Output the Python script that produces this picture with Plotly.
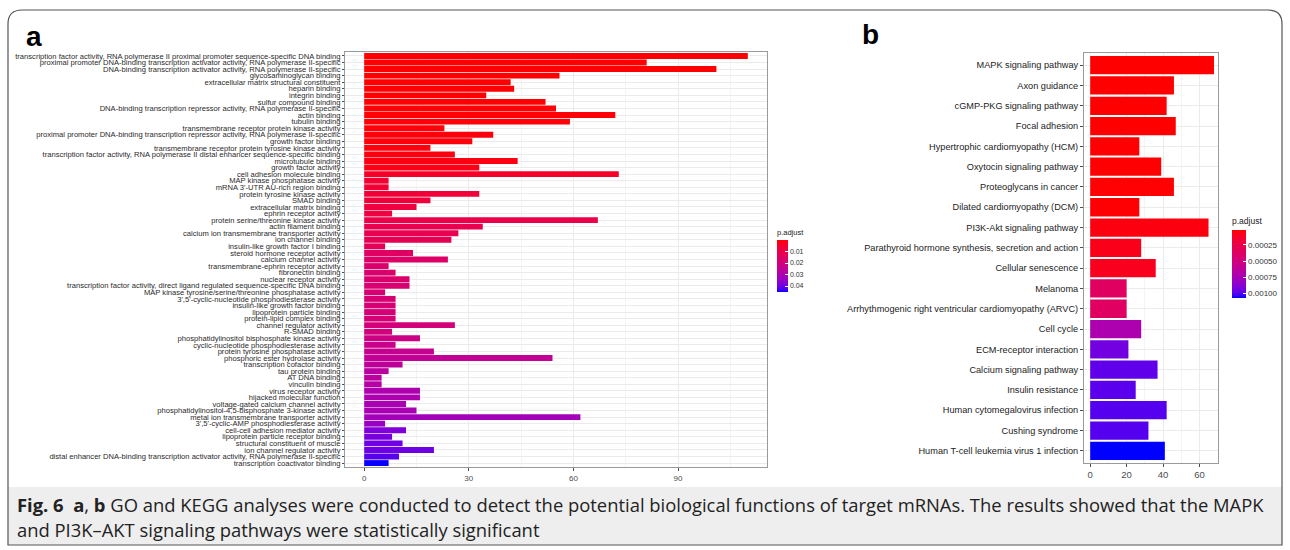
import plotly.graph_objects as go

# ---------------- data ----------------
go_terms = [
    "transcription factor activity, RNA polymerase II proximal promoter sequence-specific DNA binding",
    "proximal promoter DNA-binding transcription activator activity, RNA polymerase II-specific",
    "DNA-binding transcription activator activity, RNA polymerase II-specific",
    "glycosaminoglycan binding",
    "extracellular matrix structural constituent",
    "heparin binding",
    "integrin binding",
    "sulfur compound binding",
    "DNA-binding transcription repressor activity, RNA polymerase II-specific",
    "actin binding",
    "tubulin binding",
    "transmembrane receptor protein kinase activity",
    "proximal promoter DNA-binding transcription repressor activity, RNA polymerase II-specific",
    "growth factor binding",
    "transmembrane receptor protein tyrosine kinase activity",
    "transcription factor activity, RNA polymerase II distal enhancer sequence-specific binding",
    "microtubule binding",
    "growth factor activity",
    "cell adhesion molecule binding",
    "MAP kinase phosphatase activity",
    "mRNA 3'-UTR AU-rich region binding",
    "protein tyrosine kinase activity",
    "SMAD binding",
    "extracellular matrix binding",
    "ephrin receptor activity",
    "protein serine/threonine kinase activity",
    "actin filament binding",
    "calcium ion transmembrane transporter activity",
    "ion channel binding",
    "insulin-like growth factor I binding",
    "steroid hormone receptor activity",
    "calcium channel activity",
    "transmembrane-ephrin receptor activity",
    "fibronectin binding",
    "nuclear receptor activity",
    "transcription factor activity, direct ligand regulated sequence-specific DNA binding",
    "MAP kinase tyrosine/serine/threonine phosphatase activity",
    "3',5'-cyclic-nucleotide phosphodiesterase activity",
    "insulin-like growth factor binding",
    "lipoprotein particle binding",
    "protein-lipid complex binding",
    "channel regulator activity",
    "R-SMAD binding",
    "phosphatidylinositol bisphosphate kinase activity",
    "cyclic-nucleotide phosphodiesterase activity",
    "protein tyrosine phosphatase activity",
    "phosphoric ester hydrolase activity",
    "transcription cofactor binding",
    "tau protein binding",
    "AT DNA binding",
    "vinculin binding",
    "virus receptor activity",
    "hijacked molecular function",
    "voltage-gated calcium channel activity",
    "phosphatidylinositol-4,5-bisphosphate 3-kinase activity",
    "metal ion transmembrane transporter activity",
    "3',5'-cyclic-AMP phosphodiesterase activity",
    "cell-cell adhesion mediator activity",
    "lipoprotein particle receptor binding",
    "structural constituent of muscle",
    "ion channel regulator activity",
    "distal enhancer DNA-binding transcription activator activity, RNA polymerase II-specific",
    "transcription coactivator binding",
]
go_counts = [110, 81, 101, 56, 42, 43, 35, 52, 55, 72,
             59, 23, 37, 31, 19, 26, 44, 33, 73, 7,
             7, 33, 19, 15, 8, 67, 34, 27, 25, 6,
             14, 24, 7, 9, 13, 13, 6, 9, 9, 9,
             9, 26, 8, 16, 9, 20, 54, 11, 7, 5,
             5, 16, 16, 12, 15, 62, 6, 12, 8, 11,
             20, 10, 7]
go_padj = [0.000001, 0.00001, 0.00002, 0.00005, 0.0001, 0.00015, 0.0002, 0.0003, 0.0004, 0.0005,
           0.0006, 0.0008, 0.0009, 0.0010, 0.0012, 0.0014, 0.0016, 0.0019, 0.0045, 0.0060,
           0.0065, 0.0070, 0.0075, 0.0080, 0.0085, 0.0100, 0.0110, 0.0115, 0.0120, 0.0130,
           0.0150, 0.0160, 0.0165, 0.0170, 0.0170, 0.0175, 0.0180, 0.0180, 0.0185, 0.0190,
           0.0190, 0.0195, 0.0200, 0.0220, 0.0230, 0.0240, 0.0250, 0.0260, 0.0270, 0.0270,
           0.0280, 0.0300, 0.0300, 0.0310, 0.0310, 0.0320, 0.0340, 0.0380, 0.0390, 0.0400,
           0.0400, 0.0420, 0.0450]

kegg_terms = [
    "MAPK signaling pathway",
    "Axon guidance",
    "cGMP-PKG signaling pathway",
    "Focal adhesion",
    "Hypertrophic cardiomyopathy (HCM)",
    "Oxytocin signaling pathway",
    "Proteoglycans in cancer",
    "Dilated cardiomyopathy (DCM)",
    "PI3K-Akt signaling pathway",
    "Parathyroid hormone synthesis, secretion and action",
    "Cellular senescence",
    "Melanoma",
    "Arrhythmogenic right ventricular cardiomyopathy (ARVC)",
    "Cell cycle",
    "ECM-receptor interaction",
    "Calcium signaling pathway",
    "Insulin resistance",
    "Human cytomegalovirus infection",
    "Cushing syndrome",
    "Human T-cell leukemia virus 1 infection",
]
kegg_counts = [68, 46, 42, 47, 27, 39, 46, 27, 65, 28,
               36, 20, 20, 28, 21, 37, 25, 42, 32, 41]
kegg_padj = [0.00002, 0.000021, 0.000022, 0.000023, 0.000024, 0.000025, 0.000026, 0.000027, 0.00005, 0.00007,
             0.00009, 0.00036, 0.00037, 0.00072, 0.00094, 0.00098, 0.00099, 0.00100, 0.00100, 0.00107]

go_ticks = [0.01, 0.02, 0.03, 0.04]
kegg_ticks = [0.00025, 0.00050, 0.00075, 0.00100]
kegg_tick_text = ["0.00025", "0.00050", "0.00075", "0.00100"]

caption_line1 = ("<b>Fig. 6</b>  <b>a</b>, <b>b</b> GO and KEGG analyses were conducted to detect the potential "
                 "biological functions of target mRNAs. The results showed that the MAPK")
caption_line2 = "and PI3K\u2013AKT signaling pathways were statistically significant"

# ---------------- helpers ----------------
W, H = 1290, 550


def px(x):
    return x / W


def py(y):
    return 1 - y / H


def _lin(c):
    c = c / 255.0
    return c / 12.92 if c <= 0.04045 else ((c + 0.055) / 1.055) ** 2.4


def _gam(c):
    c = 12.92 * c if c <= 0.0031308 else 1.055 * c ** (1 / 2.4) - 0.055
    return max(0, min(255, round(c * 255)))


def rgb2lab(rgb):
    r, g, b = [_lin(v) for v in rgb]
    X = (0.4124 * r + 0.3576 * g + 0.1805 * b) / 0.95047
    Y = (0.2126 * r + 0.7152 * g + 0.0722 * b) / 1.0
    Z = (0.0193 * r + 0.1192 * g + 0.9505 * b) / 1.08883

    def f(t):
        return t ** (1 / 3) if t > 0.008856 else 7.787 * t + 16 / 116
    fx, fy, fz = f(X), f(Y), f(Z)
    return (116 * fy - 16, 500 * (fx - fy), 200 * (fy - fz))


def lab2rgb(lab):
    L, a, b = lab
    fy = (L + 16) / 116
    fx = fy + a / 500
    fz = fy - b / 200

    def finv(t):
        return t ** 3 if t ** 3 > 0.008856 else (t - 16 / 116) / 7.787
    X, Y, Z = finv(fx) * 0.95047, finv(fy), finv(fz) * 1.08883
    r = 3.2406 * X - 1.5372 * Y - 0.4986 * Z
    g = -0.9689 * X + 1.8758 * Y + 0.0415 * Z
    bb = 0.0557 * X - 0.2040 * Y + 1.0570 * Z
    return (_gam(max(r, 0)), _gam(max(g, 0)), _gam(max(bb, 0)))


lab_blue = rgb2lab((0, 0, 255))
lab_red = rgb2lab((255, 0, 0))
cscale = []
for i in range(21):
    t = i / 20
    lab = tuple(lab_blue[k] + (lab_red[k] - lab_blue[k]) * t for k in range(3))
    r, g, b = lab2rgb(lab)
    cscale.append([t, f"rgb({r},{g},{b})"])

# ---------------- figure ----------------
fig = go.Figure()

fig.add_trace(go.Bar(
    x=go_counts, y=go_terms, orientation="h", width=0.9,
    marker=dict(color=[-p for p in go_padj], coloraxis="coloraxis", line=dict(width=0)),
    xaxis="x", yaxis="y", showlegend=False,
))
fig.add_trace(go.Bar(
    x=kegg_counts, y=kegg_terms, orientation="h", width=0.9,
    marker=dict(color=[-p for p in kegg_padj], coloraxis="coloraxis2", line=dict(width=0)),
    xaxis="x2", yaxis="y2", showlegend=False,
))

grid_major = "#EBEBEB"
grid_minor = "#F4F4F4"
border = "#9A9A9A"
tickc = "#4D4D4D"

fig.update_layout(
    width=W, height=H,
    margin=dict(l=0, r=0, t=0, b=0),
    paper_bgcolor="white", plot_bgcolor="white",
    font=dict(family="Liberation Sans, Arial, sans-serif", color="#333333"),
    bargap=0.1,
    xaxis=dict(
        domain=[px(345), px(767)], anchor="y",
        range=[-5.5, 115.5], tickvals=[0, 30, 60, 90],
        showgrid=True, gridcolor=grid_major, gridwidth=1,
        minor=dict(tickvals=[15, 45, 75, 105], showgrid=True, gridcolor=grid_minor, gridwidth=0.6, ticks=""),
        zeroline=False, showline=True, mirror=True, linecolor=border, linewidth=1,
        ticks="outside", ticklen=3, tickcolor=tickc, tickwidth=1,
        tickfont=dict(size=8, color=tickc), automargin=False,
    ),
    yaxis=dict(
        domain=[py(467), py(52)], anchor="x",
        type="category", categoryorder="array", categoryarray=go_terms,
        tickmode="array", tickvals=go_terms, ticktext=go_terms,
        range=[len(go_terms) - 0.4, -0.6],
        showgrid=True, gridcolor=grid_major, gridwidth=1,
        zeroline=False, showline=True, mirror=True, linecolor=border, linewidth=1,
        ticks="outside", ticklen=2, tickcolor=tickc, tickwidth=0.8,
        tickfont=dict(size=7.6, color="#2a2a2a"), automargin=False,
    ),
    xaxis2=dict(
        domain=[px(1084), px(1218)], anchor="y2",
        range=[-3.4, 70.2], tickvals=[0, 20, 40, 60],
        showgrid=True, gridcolor=grid_major, gridwidth=1,
        minor=dict(tickvals=[10, 30, 50, 70], showgrid=True, gridcolor=grid_minor, gridwidth=0.6, ticks=""),
        zeroline=False, showline=True, mirror=True, linecolor=border, linewidth=1,
        ticks="outside", ticklen=3, tickcolor=tickc, tickwidth=1,
        tickfont=dict(size=9.5, color=tickc), automargin=False,
    ),
    yaxis2=dict(
        domain=[py(463), py(53)], anchor="x2",
        type="category", categoryorder="array", categoryarray=kegg_terms,
        tickmode="array", tickvals=kegg_terms, ticktext=kegg_terms,
        range=[len(kegg_terms) - 0.4, -0.6],
        showgrid=True, gridcolor=grid_major, gridwidth=1,
        zeroline=False, showline=True, mirror=True, linecolor=border, linewidth=1,
        ticks="outside", ticklen=3, tickcolor=tickc, tickwidth=1,
        tickfont=dict(size=9.2, color="#222222"), automargin=False,
    ),
    coloraxis=dict(
        colorscale=cscale, cmin=-0.0452, cmax=0.0,
        colorbar=dict(
            x=px(777), xanchor="left", y=py(226), yanchor="top",
            lenmode="pixels", len=66, thickness=11, outlinewidth=0,
            tickvals=[-t for t in go_ticks], ticktext=[f"{t:.2f}" for t in go_ticks],
            ticks="inside", ticklen=3, tickcolor="white", tickwidth=1,
            tickfont=dict(size=7, color="#333333"),
            title=dict(text="p.adjust", side="top", font=dict(size=7.5, color="#222222")),
            xpad=0, ypad=0,
        ),
    ),
    coloraxis2=dict(
        colorscale=cscale, cmin=-0.00107, cmax=-0.00002,
        colorbar=dict(
            x=px(1232), xanchor="left", y=py(215), yanchor="top",
            lenmode="pixels", len=83, thickness=14, outlinewidth=0,
            tickvals=[-t for t in kegg_ticks], ticktext=kegg_tick_text,
            ticks="inside", ticklen=3, tickcolor="white", tickwidth=1,
            tickfont=dict(size=8, color="#333333"),
            title=dict(text="p.adjust", side="top", font=dict(size=8.5, color="#222222")),
            xpad=0, ypad=0,
        ),
    ),
)

# frame and caption background
r = 14
frame_path = (f"M {px(8)},{py(545)} L {px(8)},{py(10 + r)} Q {px(8)},{py(10)} {px(8 + r)},{py(10)} "
              f"L {px(1282 - r)},{py(10)} Q {px(1282)},{py(10)} {px(1282)},{py(10 + r)} L {px(1282)},{py(545)} Z")
fig.add_shape(type="rect", xref="paper", yref="paper",
              x0=px(8), x1=px(1282), y0=py(545), y1=py(487),
              fillcolor="#EEEEEE", line=dict(width=0), layer="below")
fig.add_shape(type="path", xref="paper", yref="paper", path=frame_path,
              line=dict(color="#555555", width=1.2), fillcolor="rgba(0,0,0,0)", layer="above")

# panel letters
fig.add_annotation(x=px(24), y=py(37), xref="paper", yref="paper", text="<b>a</b>",
                   showarrow=False, xanchor="left", yanchor="middle",
                   font=dict(size=28, color="black", family="Liberation Sans, Arial"))
fig.add_annotation(x=px(860), y=py(35), xref="paper", yref="paper", text="<b>b</b>",
                   showarrow=False, xanchor="left", yanchor="middle",
                   font=dict(size=28, color="black", family="Liberation Sans, Arial"))

# caption
fig.add_annotation(x=px(15), y=py(504), xref="paper", yref="paper", text=caption_line1,
                   showarrow=False, xanchor="left", yanchor="middle", align="left",
                   font=dict(size=18.4, color="#222222", family="Open Sans"))
fig.add_annotation(x=px(15), y=py(529), xref="paper", yref="paper", text=caption_line2,
                   showarrow=False, xanchor="left", yanchor="middle", align="left",
                   font=dict(size=18.4, color="#222222", family="Open Sans"))

fig.write_html("out.html")
